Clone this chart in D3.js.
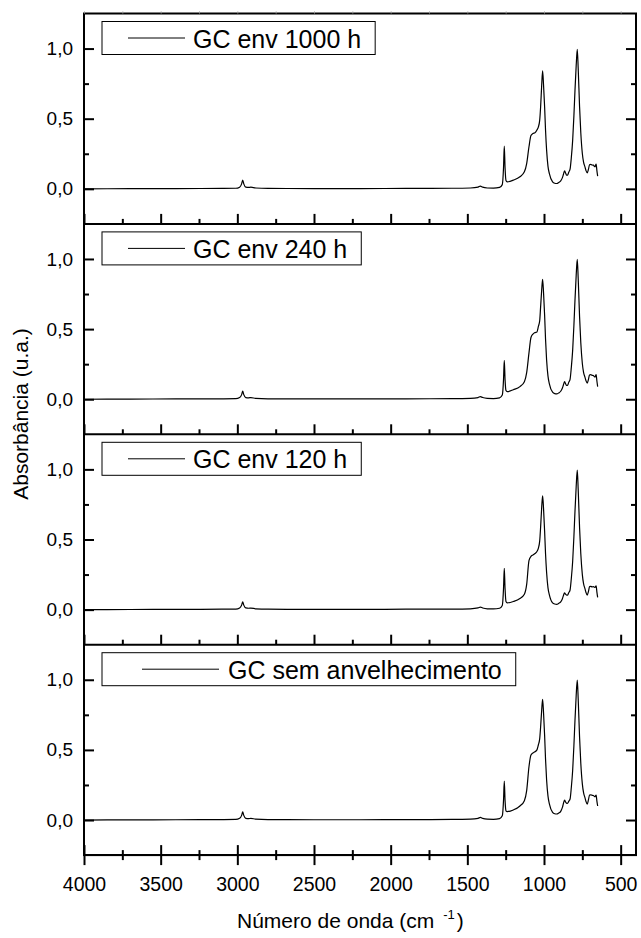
<!DOCTYPE html>
<html>
<head>
<meta charset="utf-8">
<script src="https://cdn.jsdelivr.net/npm/d3@7"></script>
<style>
  html, body { margin: 0; padding: 0; background: #fff; }
  svg { display: block; font-family: "Liberation Sans", Arial, sans-serif; }
</style>
</head>
<body>
<svg id="chart" width="641" height="938"></svg>
<script>
// FTIR spectra of the samples, wavenumber in cm^-1 (descending)
const wavenumbers = [
  4000, 3700, 3400, 3100, 3010, 2985, 2972, 2965, 2958, 2945, 2925, 2912, 2880, 2800,
  2500, 2200, 1900, 1600, 1480, 1430, 1415, 1400, 1370, 1330, 1290, 1272, 1264, 1259,
  1254, 1248, 1240, 1200, 1157, 1128, 1113, 1098, 1085, 1072, 1059, 1046, 1037, 1028,
  1022, 1015, 1009, 1003, 996, 990, 983, 974, 965, 944, 930, 917, 904, 891, 880, 874,
  866, 860, 852, 846, 838, 830, 822, 813, 805, 798, 790, 783, 777, 768, 760, 750, 742,
  733, 726, 718, 710, 703, 695, 686, 678, 671, 667, 663, 660, 655, 650
];

// Absorbance (u.a.) for each ageing time
const absEnv1000 = [
  0.000, 0.001, 0.002, 0.003, 0.004, 0.012, 0.035, 0.062, 0.035, 0.012, 0.010, 0.012, 0.006, 0.003,
  0.002, 0.002, 0.003, 0.004, 0.006, 0.012, 0.020, 0.012, 0.006, 0.005, 0.010, 0.030, 0.150, 0.304,
  0.150, 0.060, 0.050, 0.062, 0.086, 0.121, 0.180, 0.300, 0.380, 0.395, 0.400, 0.420, 0.440, 0.490,
  0.585, 0.740, 0.841, 0.740, 0.585, 0.420, 0.276, 0.160, 0.109, 0.050, 0.040, 0.038, 0.045, 0.057, 0.080, 0.100,
  0.128, 0.115, 0.097, 0.098, 0.120, 0.140, 0.220, 0.347, 0.520, 0.700, 0.880, 0.995, 0.860, 0.585, 0.400, 0.252, 0.190,
  0.157, 0.130, 0.114, 0.140, 0.172, 0.175, 0.170, 0.169, 0.160, 0.157, 0.170, 0.176, 0.130, 0.090
];
const absEnv240 = [
  0.000, 0.001, 0.002, 0.003, 0.004, 0.012, 0.033, 0.058, 0.033, 0.012, 0.010, 0.012, 0.006, 0.003,
  0.002, 0.002, 0.003, 0.004, 0.006, 0.012, 0.019, 0.012, 0.006, 0.005, 0.010, 0.030, 0.140, 0.278,
  0.140, 0.062, 0.054, 0.068, 0.090, 0.125, 0.190, 0.330, 0.440, 0.465, 0.475, 0.480, 0.517, 0.560,
  0.660, 0.780, 0.855, 0.760, 0.600, 0.430, 0.280, 0.165, 0.110, 0.050, 0.040, 0.038, 0.045, 0.057, 0.080, 0.100,
  0.125, 0.112, 0.098, 0.100, 0.122, 0.142, 0.225, 0.350, 0.525, 0.705, 0.885, 0.997, 0.862, 0.588, 0.402, 0.255, 0.192,
  0.158, 0.132, 0.115, 0.142, 0.173, 0.176, 0.170, 0.169, 0.160, 0.157, 0.170, 0.176, 0.130, 0.090
];
const absEnv120 = [
  0.000, 0.001, 0.002, 0.003, 0.004, 0.012, 0.032, 0.055, 0.032, 0.012, 0.010, 0.011, 0.006, 0.003,
  0.002, 0.002, 0.003, 0.004, 0.006, 0.012, 0.018, 0.012, 0.006, 0.005, 0.010, 0.030, 0.150, 0.294,
  0.150, 0.058, 0.048, 0.058, 0.080, 0.110, 0.180, 0.350, 0.380, 0.390, 0.400, 0.415, 0.437, 0.490,
  0.590, 0.730, 0.812, 0.720, 0.560, 0.400, 0.265, 0.155, 0.105, 0.048, 0.040, 0.038, 0.045, 0.055, 0.078, 0.098,
  0.120, 0.110, 0.104, 0.104, 0.122, 0.140, 0.220, 0.345, 0.520, 0.700, 0.880, 0.995, 0.858, 0.584, 0.398, 0.250, 0.185,
  0.150, 0.122, 0.104, 0.130, 0.164, 0.166, 0.162, 0.164, 0.160, 0.158, 0.166, 0.170, 0.125, 0.087
];
const absUnaged = [
  0.000, 0.001, 0.002, 0.003, 0.004, 0.012, 0.033, 0.058, 0.033, 0.012, 0.010, 0.012, 0.006, 0.003,
  0.002, 0.002, 0.003, 0.004, 0.006, 0.012, 0.019, 0.012, 0.006, 0.005, 0.010, 0.030, 0.140, 0.278,
  0.140, 0.066, 0.060, 0.072, 0.100, 0.138, 0.210, 0.380, 0.463, 0.478, 0.487, 0.500, 0.535, 0.580,
  0.665, 0.785, 0.860, 0.765, 0.605, 0.435, 0.285, 0.170, 0.115, 0.055, 0.045, 0.043, 0.050, 0.062, 0.090, 0.115,
  0.143, 0.130, 0.119, 0.120, 0.135, 0.150, 0.230, 0.355, 0.530, 0.710, 0.890, 0.998, 0.865, 0.590, 0.405, 0.258, 0.195,
  0.160, 0.132, 0.114, 0.145, 0.178, 0.180, 0.176, 0.175, 0.168, 0.165, 0.175, 0.178, 0.135, 0.100
];

const seriesValues = [absEnv1000, absEnv240, absEnv120, absUnaged];
const seriesNames = ["GC env 1000 h", "GC env 240 h", "GC env 120 h", "GC sem anvelhecimento"];

const xMajorTicks = [4000, 3500, 3000, 2500, 2000, 1500, 1000, 500];
const xMinorTicks = [3750, 3250, 2750, 2250, 1750, 1250, 750];
const yMajorTicks = [0, 0.5, 1.0];
const yMinorTicks = [0.25, 0.75];

const xTitle = "Número de onda (cm";
const yTitle = "Absorbância (u.a.)";

// ---- layout ----
const svg = d3.select("#chart");
const plotL = 84, plotR = 636, plotT = 13.5, panelH = 210.4, nPanels = 4;
const plotB = plotT + panelH * nPanels;

svg.append("rect").attr("width", 641).attr("height", 938).attr("fill", "#fff");

const x = d3.scaleLinear().domain([4000, 400]).range([plotL, plotR]);
const fmt = d => d3.format(".1f")(d).replace(".", ",");

// legend layout per panel: [lineStart, lineEnd, textStart]
const legendLayout = [[128, 185, 193], [128, 185, 193], [128, 185, 193], [142, 219, 228]];

function styleTicks(sel) {
  sel.select(".domain").remove();
  sel.selectAll("line").attr("stroke", "#000").attr("stroke-width", 2);
  return sel;
}

seriesNames.forEach((name, i) => {
  const pTop = plotT + i * panelH;
  const pBot = pTop + panelH;
  const y = d3.scaleLinear().domain([-0.25, 1.25]).range([pBot, pTop]);
  const g = svg.append("g");

  // spectrum
  const pts = wavenumbers.map((w, k) => [w, seriesValues[i][k]]);
  g.append("path")
    .datum(pts)
    .attr("fill", "none")
    .attr("stroke", "#000")
    .attr("stroke-width", 1.2)
    .attr("stroke-linejoin", "round")
    .attr("d", d3.line().x(d => x(d[0])).y(d => y(d[1])).curve(d3.curveMonotoneX));

  // left axis: inward ticks with labels outside
  const la = styleTicks(g.append("g").attr("transform", `translate(${plotL},0)`)
    .call(d3.axisLeft(y).tickValues(yMajorTicks).tickSizeInner(-10).tickSizeOuter(0)
      .tickPadding(11).tickFormat(fmt)));
  la.selectAll("text").attr("font-size", 19).attr("font-family", "Liberation Sans, Arial, sans-serif").attr("fill", "#000");
  styleTicks(g.append("g").attr("transform", `translate(${plotL},0)`)
    .call(d3.axisLeft(y).tickValues(yMinorTicks).tickSizeInner(-5).tickSizeOuter(0).tickFormat("")));

  // right axis: inward ticks
  styleTicks(g.append("g").attr("transform", `translate(${plotR},0)`)
    .call(d3.axisRight(y).tickValues(yMajorTicks).tickSizeInner(-10).tickSizeOuter(0).tickFormat("")));
  styleTicks(g.append("g").attr("transform", `translate(${plotR},0)`)
    .call(d3.axisRight(y).tickValues(yMinorTicks).tickSizeInner(-5).tickSizeOuter(0).tickFormat("")));

  // bottom of each panel: inward ticks
  styleTicks(g.append("g").attr("transform", `translate(0,${pBot})`)
    .call(d3.axisBottom(x).tickValues(xMajorTicks).tickSizeInner(-10).tickSizeOuter(0).tickFormat("")));
  styleTicks(g.append("g").attr("transform", `translate(0,${pBot})`)
    .call(d3.axisBottom(x).tickValues(xMinorTicks).tickSizeInner(-5).tickSizeOuter(0).tickFormat("")));

  // panel separator
  g.append("line").attr("x1", plotL).attr("x2", plotR).attr("y1", pBot).attr("y2", pBot)
    .attr("stroke", "#000").attr("stroke-width", 2);

  // legend
  const [l1, l2, tx] = legendLayout[i];
  const boxY = pTop + 8, boxH = 33;
  const box = g.append("rect").attr("x", 102).attr("y", boxY).attr("height", boxH)
    .attr("fill", "#fff").attr("stroke", "#000").attr("stroke-width", 1);
  g.append("line").attr("x1", l1).attr("x2", l2).attr("y1", boxY + boxH / 2).attr("y2", boxY + boxH / 2)
    .attr("stroke", "#000").attr("stroke-width", 1);
  const t = g.append("text").attr("x", tx).attr("y", pTop + 34)
    .attr("font-size", 25).attr("fill", "#000").text(name);
  const tw = t.node().getComputedTextLength();
  box.attr("width", tx + tw + 14 - 102);
});

// outer frame
svg.append("rect").attr("x", plotL).attr("y", plotT).attr("width", plotR - plotL).attr("height", plotB - plotT)
  .attr("fill", "none").attr("stroke", "#000").attr("stroke-width", 2);

// top edge: short outward ticks
const ta = svg.append("g").attr("transform", `translate(0,${plotT})`)
  .call(d3.axisTop(x).tickValues(xMajorTicks.concat(xMinorTicks)).tickSizeInner(2).tickSizeOuter(0).tickFormat(""));
ta.select(".domain").remove();
ta.selectAll("line").attr("stroke", "#999").attr("stroke-width", 1);

// bottom x axis: outward ticks and labels
const xa = styleTicks(svg.append("g").attr("transform", `translate(0,${plotB})`)
  .call(d3.axisBottom(x).tickValues(xMajorTicks).tickSizeInner(10).tickSizeOuter(0).tickPadding(12).tickFormat(d3.format("d"))));
xa.selectAll("text").attr("font-size", 19.5).attr("font-family", "Liberation Sans, Arial, sans-serif").attr("fill", "#000");
styleTicks(svg.append("g").attr("transform", `translate(0,${plotB})`)
  .call(d3.axisBottom(x).tickValues(xMinorTicks).tickSizeInner(5).tickSizeOuter(0).tickFormat("")));

// axis titles
const xt = svg.append("text").attr("x", 237).attr("y", 928).attr("font-size", 21).attr("fill", "#000");
xt.append("tspan").text(xTitle);
xt.append("tspan").attr("dx", 9).attr("dy", -9).attr("font-size", 13).text("-1");
xt.append("tspan").attr("dx", 2).attr("dy", 9).text(")");

svg.append("text")
  .attr("transform", "translate(28,414) rotate(-90)")
  .attr("text-anchor", "middle")
  .attr("font-size", 21).attr("fill", "#000")
  .text(yTitle);
</script>
</body>
</html>
